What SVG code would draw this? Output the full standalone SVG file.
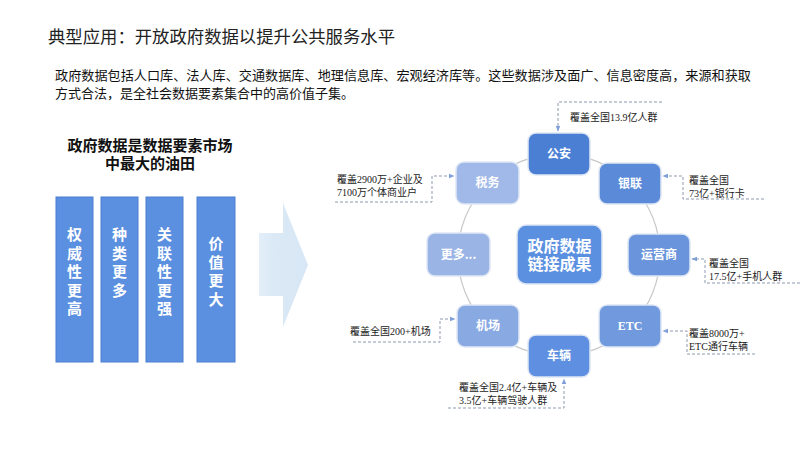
<svg xmlns="http://www.w3.org/2000/svg" width="800" height="450" viewBox="0 0 800 450">
<defs>
<style>
.title{font-family:"Noto Sans CJK SC","Noto Sans",sans-serif;font-size:17px;fill:#222;}
.para{font-family:"Noto Sans CJK SC","Noto Sans",sans-serif;font-size:13px;fill:#111;}
.head{font-family:"Liberation Sans","Noto Sans CJK SC",sans-serif;font-size:15px;font-weight:bold;fill:#111;}
.bar{fill:#5b8fe0;stroke:#4d7fcf;stroke-width:1;}
.bt{font-family:"Noto Sans CJK SC",sans-serif;font-size:15px;font-weight:bold;fill:#fff;writing-mode:vertical-rl;letter-spacing:3.5px;}
.node{stroke:#dfe7f5;stroke-width:1.5;}
.nt{font-family:"Noto Sans CJK SC",sans-serif;font-size:12px;font-weight:bold;fill:#fff;text-anchor:middle;}
.ct{font-family:"Liberation Sans","Noto Sans CJK SC",sans-serif;font-size:16px;font-weight:bold;fill:#fff;text-anchor:middle;}
.ann{font-family:"Liberation Serif","Noto Sans CJK SC",serif;font-size:10px;fill:#222;}
.dash{fill:none;stroke:#8f9bb0;stroke-width:1;stroke-dasharray:3 2;}
.ring{fill:none;stroke:#c8c8c8;stroke-width:1.2;}
</style>
<marker id="ah" viewBox="0 0 10 10" refX="9" refY="5" markerWidth="6" markerHeight="6" orient="auto" markerUnits="userSpaceOnUse">
<path d="M0,1 L10,5 L0,9 Z" fill="#7f9fd8"/>
</marker>
<linearGradient id="ag" x1="0" y1="0" x2="1" y2="0">
<stop offset="0" stop-color="#e3eef9"/>
<stop offset="0.3" stop-color="#dbe9f6"/>
<stop offset="1" stop-color="#d8e7f5"/>
</linearGradient>
</defs>
<rect width="800" height="450" fill="#fff"/>
<text class="title" x="48" y="43" textLength="347" lengthAdjust="spacingAndGlyphs">典型应用：开放政府数据以提升公共服务水平</text>
<text class="para" x="55" y="80" textLength="696" lengthAdjust="spacingAndGlyphs">政府数据包括人口库、法人库、交通数据库、地理信息库、宏观经济库等。这些数据涉及面广、信息密度高，来源和获取</text>
<text class="para" x="55" y="98">方式合法，是全社会数据要素集合中的高价值子集。</text>
<g id="heading">
<text class="head" text-anchor="middle"><tspan x="150" y="151">政府数据是数据要素市场</tspan><tspan x="150" y="169">中最大的油田</tspan></text>
</g>
<g id="bar1"><rect class="bar" x="56" y="197" width="37" height="165"/>
<text class="bt" x="74.5" y="227">权威性更高</text></g>
<g id="bar2"><rect class="bar" x="101" y="197" width="37" height="165"/>
<text class="bt" x="119.5" y="227">种类更多</text></g>
<g id="bar3"><rect class="bar" x="146" y="197" width="37" height="165"/>
<text class="bt" x="164.5" y="227">关联性更强</text></g>
<g id="bar4"><rect class="bar" x="197" y="197" width="38" height="165"/>
<text class="bt" x="216" y="236">价值更大</text></g>
<g id="bigarrow"><path d="M259,233 H283 V203 L308,265 L283,327 V296 H259 Z" fill="url(#ag)"/></g>
<g id="connectors">
<circle class="ring" cx="559" cy="255" r="101"/>
<path class="dash" d="M662,102 H558 V131" marker-end="url(#ah)"/>
<path class="dash" d="M764,199 H683 V176 H663" marker-end="url(#ah)"/>
<path class="dash" d="M800,283 H705 V259 H692" marker-end="url(#ah)"/>
<path class="dash" d="M755,354 H687 V331 H663" marker-end="url(#ah)"/>
<path class="dash" d="M448,408 H564 V379" marker-end="url(#ah)"/>
<path class="dash" d="M353,342 H440 V319 H455" marker-end="url(#ah)"/>
<path class="dash" d="M335,202 H432 V176 H454" marker-end="url(#ah)"/>
</g>
<g id="center"><rect class="node" x="517" y="225" width="85" height="59" rx="9" fill="#5b8fe0"/>
<text class="ct"><tspan x="559.5" y="251.5">政府数据</tspan><tspan x="559.5" y="270">链接成果</tspan></text></g>
<g id="gongan"><rect class="node" x="528" y="133" width="62" height="42" rx="8" fill="#4a7fd4"/><text class="nt" x="559" y="158">公安</text></g>
<g id="yinlian"><rect class="node" x="599" y="163" width="62" height="41" rx="8" fill="#5b8ad8"/><text class="nt" x="630" y="188">银联</text></g>
<g id="yunying"><rect class="node" x="628" y="234" width="62" height="42" rx="8" fill="#6a95dc"/><text class="nt" x="659" y="259">运营商</text></g>
<g id="etc"><rect class="node" x="599" y="305" width="62" height="42" rx="8" fill="#7199dd"/><text class="nt" x="630" y="330" style="font-family:'Liberation Serif',serif">ETC</text></g>
<g id="cheliang"><rect class="node" x="528" y="335" width="62" height="42" rx="8" fill="#5e8fe0"/><text class="nt" x="559" y="360">车辆</text></g>
<g id="jichang"><rect class="node" x="457" y="305" width="62" height="42" rx="8" fill="#89a9e3"/><text class="nt" x="488" y="330">机场</text></g>
<g id="gengduo"><rect class="node" x="427" y="233" width="63" height="43" rx="8" fill="#9ab4e6"/><text class="nt" x="458.5" y="259">更多...</text></g>
<g id="shuiwu"><rect class="node" x="456" y="162" width="63" height="42" rx="8" fill="#a0b9e8"/><text class="nt" x="487.5" y="187">税务</text></g>
<g id="annotations">
<text class="ann" x="570" y="121">覆盖全国13.9亿人群</text>
<text class="ann"><tspan x="689" y="184">覆盖全国</tspan><tspan x="689" y="196.5">73亿+银行卡</tspan></text>
<text class="ann"><tspan x="709" y="267">覆盖全国</tspan><tspan x="709" y="279.5">17.5亿+手机人群</tspan></text>
<text class="ann"><tspan x="689" y="337">覆盖8000万+</tspan><tspan x="689" y="349.5">ETC通行车辆</tspan></text>
<text class="ann"><tspan x="459" y="391">覆盖全国2.4亿+车辆及</tspan><tspan x="459" y="403.5">3.5亿+车辆驾驶人群</tspan></text>
<text class="ann" x="350" y="335">覆盖全国200+机场</text>
<text class="ann"><tspan x="337" y="183">覆盖2900万+企业及</tspan><tspan x="337" y="195.5">7100万个体商业户</tspan></text>
</g>
</svg>
